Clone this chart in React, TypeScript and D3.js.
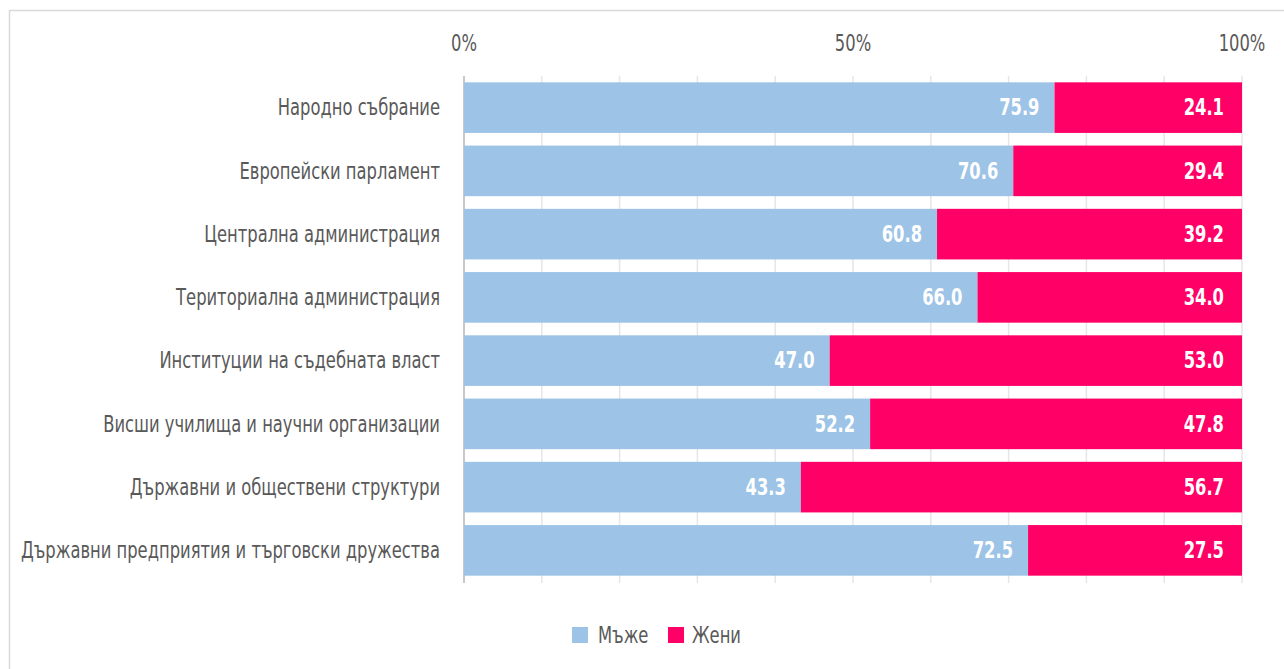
import React from "react";
import * as d3 from "d3";

const categories = [
  "Народно събрание",
  "Европейски парламент",
  "Централна администрация",
  "Териториална администрация",
  "Институции на съдебната власт",
  "Висши училища и научни организации",
  "Държавни и обществени структури",
  "Държавни предприятия и търговски дружества",
];
const men = [75.9, 70.6, 60.8, 66.0, 47.0, 52.2, 43.3, 72.5];
const women = [24.1, 29.4, 39.2, 34.0, 53.0, 47.8, 56.7, 27.5];
const seriesNames = ["Мъже", "Жени"];
const tickValues = [0, 50, 100];
const gridValues = [0, 10, 20, 30, 40, 50, 60, 70, 80, 90, 100];

const W = 1284;
const H = 669;
const FONT = "'DejaVu Sans Condensed', 'DejaVu Sans', sans-serif";
const BLUE = "#9DC3E6";
const PINK = "#FF0066";
const TEXT = "#595959";
const SX = 0.79;

function T(props: {
  x: number;
  y: number;
  anchor?: "start" | "middle" | "end";
  size?: number;
  bold?: boolean;
  fill: string;
  children: React.ReactNode;
}) {
  return (
    <text
      transform={`translate(${props.x},${props.y}) scale(${SX},1)`}
      textAnchor={props.anchor || "start"}
      dominantBaseline="central"
      fontSize={props.size || 23}
      fontWeight={props.bold ? "bold" : "normal"}
      fill={props.fill}
    >
      {props.children}
    </text>
  );
}

export default function App() {
  const x = d3.scaleLinear().domain([0, 100]).range([464, 1242]);
  const y = d3.scaleBand<string>().domain(categories).range([76, 582]).paddingInner(0.2).paddingOuter(0.1);
  const bw = y.bandwidth();

  return (
    <svg
      width={W}
      height={H}
      style={{ position: "absolute", left: 0, top: 0, display: "block" }}
      fontFamily={FONT}
    >
      <rect x={0} y={0} width={W} height={H} fill="#fff" />
      <rect x={9.5} y={10.5} width={W + 20} height={H + 20} fill="none" stroke="#D9D9D9" strokeWidth={1.5} />

      {gridValues.map((g) => (
        <line key={g} x1={x(g)} x2={x(g)} y1={76} y2={583} stroke="#E6E6E6" strokeWidth={1.5} />
      ))}
      <line x1={x(0)} x2={x(0)} y1={76} y2={583} stroke="#C8C8C8" strokeWidth={2} />

      {tickValues.map((t) => (
        <T key={t} x={x(t)} y={43} anchor="middle" fill={TEXT}>
          {t}%
        </T>
      ))}

      {categories.map((c, i) => {
        const y0 = y(c)!;
        const cy = y0 + bw / 2;
        return (
          <g key={c}>
            <rect x={x(0)} y={y0} width={x(men[i]) - x(0)} height={bw} fill={BLUE} />
            <rect x={x(men[i])} y={y0} width={x(men[i] + women[i]) - x(men[i])} height={bw} fill={PINK} />
            <T x={440} y={cy} anchor="end" fill={TEXT}>
              {c}
            </T>
            <T x={x(men[i]) - 15} y={cy} anchor="end" bold fill="#fff">
              {men[i].toFixed(1)}
            </T>
            <T x={x(men[i] + women[i]) - 18} y={cy} anchor="end" bold fill="#fff">
              {women[i].toFixed(1)}
            </T>
          </g>
        );
      })}

      <g>
        <rect x={572} y={627} width={16} height={16} fill={BLUE} />
        <T x={598} y={635} fill={TEXT}>{seriesNames[0]}</T>
        <rect x={668} y={627} width={16} height={16} fill={PINK} />
        <T x={692} y={635} fill={TEXT}>{seriesNames[1]}</T>
      </g>
    </svg>
  );
}
